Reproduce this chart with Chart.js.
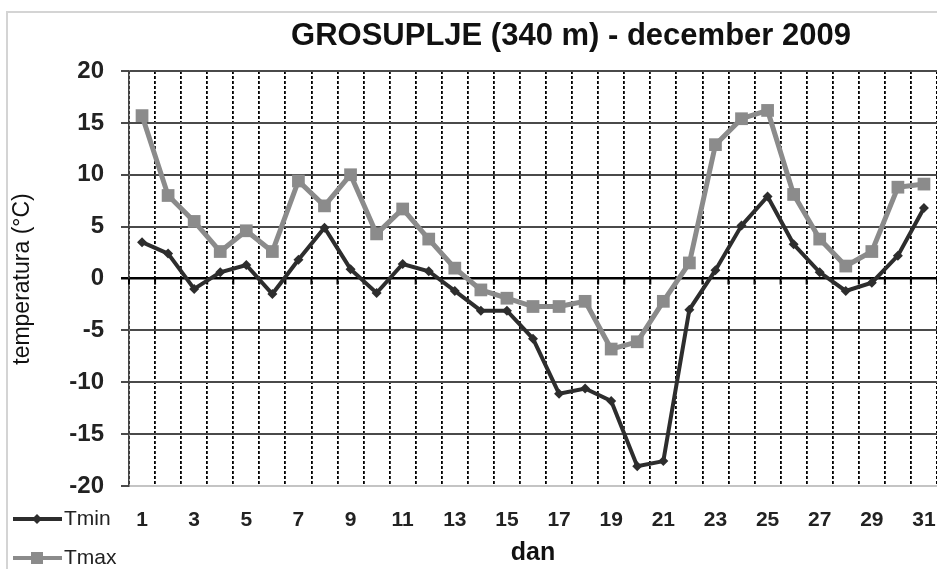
<!DOCTYPE html>
<html>
<head>
<meta charset="utf-8">
<title>GROSUPLJE (340 m) - december 2009</title>
<script src="https://cdn.jsdelivr.net/npm/chart.js@4.4.1/dist/chart.umd.min.js"></script>
<style>
  html, body { margin: 0; padding: 0; background: #fff; }
  canvas { display: block; }
</style>
</head>
<body>
<canvas id="tempChart" width="937" height="569"></canvas>
<script>
  // Daily values (°C)
  const days = Array.from({ length: 31 }, (_, i) => String(i + 1));
  const tmin = [3.5, 2.4, -1.0, 0.6, 1.3, -1.5, 1.8, 4.9, 0.9, -1.4,
                1.4, 0.7, -1.2, -3.1, -3.1, -5.8, -11.1, -10.6, -11.8, -18.1,
                -17.6, -3.0, 0.8, 5.1, 7.9, 3.3, 0.6, -1.2, -0.4, 2.2, 6.8];
  const tmax = [15.7, 8.0, 5.5, 2.6, 4.6, 2.6, 9.4, 7.0, 10.0, 4.3,
                6.7, 3.8, 1.0, -1.1, -1.9, -2.7, -2.7, -2.2, -6.8, -6.1,
                -2.2, 1.5, 12.9, 15.4, 16.2, 8.1, 3.8, 1.2, 2.6, 8.8, 9.1];
  const yTicks = [20, 15, 10, 5, 0, -5, -10, -15, -20];

  const FONT = '"Liberation Sans", Arial, sans-serif';
  const MIN_COLOR = '#2d2d2d';
  const MAX_COLOR = '#8b8b8b';

  // Title, axis titles, Excel-style legend and the zero-line tick marks
  const decorations = {
    id: 'decorations',
    beforeDatasetsDraw(chart) {
      const ctx = chart.ctx;
      const x = chart.scales.x;
      const y0 = chart.scales.y.getPixelForValue(0);
      const step = x.getPixelForValue(1) - x.getPixelForValue(0);
      ctx.save();
      ctx.strokeStyle = '#000';
      ctx.lineWidth = 2;
      for (let i = 0; i <= days.length; i++) {
        const px = x.getPixelForValue(i) - step / 2;
        ctx.beginPath();
        ctx.moveTo(px, y0);
        ctx.lineTo(px, y0 + 6);
        ctx.stroke();
      }
      ctx.restore();
    },
    afterDraw(chart) {
      const ctx = chart.ctx;
      const area = chart.chartArea;
      ctx.save();

      // scan frame
      ctx.strokeStyle = '#d4d4d4';
      ctx.lineWidth = 2;
      ctx.beginPath();
      ctx.moveTo(7, 600);
      ctx.lineTo(7, 12);
      ctx.lineTo(940, 12);
      ctx.stroke();

      // title
      ctx.fillStyle = '#111';
      ctx.textAlign = 'center';
      ctx.textBaseline = 'middle';
      ctx.font = 'bold 31px ' + FONT;
      ctx.fillText('GROSUPLJE (340 m) - december 2009', 571, 36);

      // x axis title
      ctx.font = 'bold 25px ' + FONT;
      ctx.fillText('dan', (area.left + area.right) / 2, 553);

      // y axis title
      ctx.save();
      ctx.translate(23, 279);
      ctx.rotate(-Math.PI / 2);
      ctx.font = '23px ' + FONT;
      ctx.fillText('temperatura (°C)', 0, 0);
      ctx.restore();

      // legend
      const items = [
        { label: 'Tmin', color: MIN_COLOR, y: 519, shape: 'diamond' },
        { label: 'Tmax', color: MAX_COLOR, y: 558, shape: 'square' }
      ];
      items.forEach(item => {
        ctx.strokeStyle = item.color;
        ctx.fillStyle = item.color;
        ctx.lineWidth = 4;
        ctx.beginPath();
        ctx.moveTo(13, item.y);
        ctx.lineTo(62, item.y);
        ctx.stroke();
        ctx.beginPath();
        if (item.shape === 'diamond') {
          ctx.moveTo(37, item.y - 5);
          ctx.lineTo(42, item.y);
          ctx.lineTo(37, item.y + 5);
          ctx.lineTo(32, item.y);
        } else {
          ctx.rect(31, item.y - 6, 12, 12);
        }
        ctx.fill();
        ctx.fillStyle = '#222';
        ctx.textAlign = 'left';
        ctx.font = '21px ' + FONT;
        ctx.fillText(item.label, 64, item.y);
      });

      ctx.restore();
    }
  };

  new Chart(document.getElementById('tempChart'), {
    type: 'line',
    data: {
      labels: days,
      datasets: [
        {
          label: 'Tmin',
          data: tmin,
          borderColor: MIN_COLOR,
          backgroundColor: MIN_COLOR,
          borderWidth: 4,
          pointStyle: 'rectRot',
          pointRadius: 5,
          pointBorderWidth: 0,
          tension: 0,
          order: 1
        },
        {
          label: 'Tmax',
          data: tmax,
          borderColor: MAX_COLOR,
          backgroundColor: MAX_COLOR,
          borderWidth: 5,
          pointStyle: 'rect',
          pointRadius: 9,
          pointBorderWidth: 0,
          tension: 0,
          order: 0
        }
      ]
    },
    options: {
      responsive: false,
      animation: false,
      layout: { autoPadding: false, padding: { top: 71, left: 0, right: 0, bottom: 0 } },
      plugins: {
        legend: { display: false },
        title: { display: false },
        tooltip: { enabled: false }
      },
      scales: {
        x: {
          offset: true,
          afterFit: scale => { scale.height = 83; },
          grid: {
            offset: true,
            drawTicks: true,
            tickLength: 22,
            tickColor: 'rgba(0,0,0,0)',
            color: '#000',
            lineWidth: 1.8
          },
          border: { display: true, color: '#c4c4c4', width: 2, dash: [3, 2] },
          ticks: {
            autoSkip: false,
            maxRotation: 0,
            padding: 0,
            color: '#222',
            font: { family: FONT, size: 21, weight: 'bold' },
            callback: function(value, index) {
              return index % 2 === 0 ? this.getLabelForValue(value) : '';
            }
          }
        },
        y: {
          min: -20,
          max: 20,
          afterFit: scale => { scale.width = 129; },
          afterBuildTicks: scale => { scale.ticks = yTicks.map(v => ({ value: v })); },
          grid: {
            tickLength: 8,
            color: ctx => ctx.tick && ctx.tick.value === 0 ? '#000' : '#4a4a4a',
            lineWidth: ctx => ctx.tick && ctx.tick.value === 0 ? 2.5 : 2
          },
          border: { display: true, color: '#444', width: 1.5 },
          ticks: {
            padding: 17,
            color: '#222',
            font: { family: FONT, size: 24, weight: 'bold' }
          }
        }
      }
    },
    plugins: [decorations]
  });
</script>
</body>
</html>
